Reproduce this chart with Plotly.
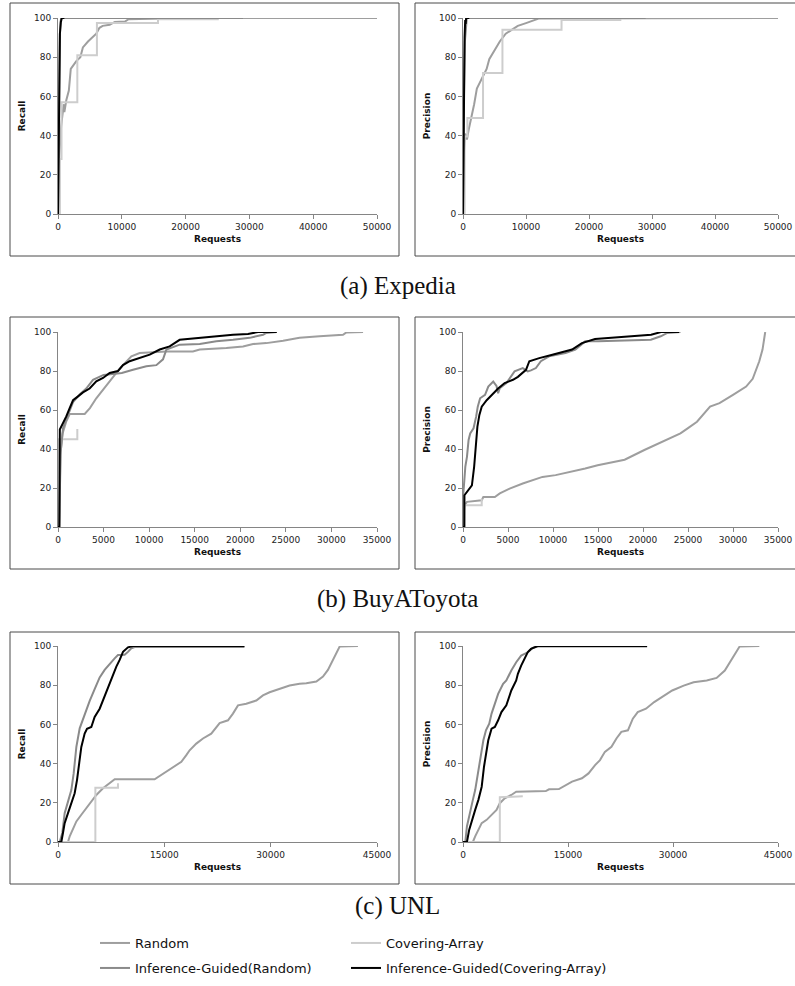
import plotly.graph_objects as go

# ---------------- data ----------------
series_names = ["Random", "Covering-Array", "Inference-Guided(Random)", "Inference-Guided(Covering-Array)"]
series_colors = ["#9e9e9e", "#cdcdcd", "#8a8a8a", "#000000"]
series_legend = ["legend", "legend2", "legend3", "legend4"]

x_max = {"expedia": 50000, "toyota": 35000, "unl": 45000}
x_ticks = {
    "expedia": [0, 10000, 20000, 30000, 40000, 50000],
    "toyota": [0, 5000, 10000, 15000, 20000, 25000, 30000, 35000],
    "unl": [0, 15000, 30000, 45000],
}
y_ticks = [0, 20, 40, 60, 80, 100]
captions = ["(a) Expedia", "(b) BuyAToyota", "(c) UNL"]

# Expedia - Recall
exp_rec_rand_x = [0, 200, 500, 780, 900, 1000, 1300, 1700, 2000, 2870, 3500, 3900, 4700, 6000, 6500, 7000, 8100, 8900, 10500, 11000, 15000, 20000, 50000]
exp_rec_rand_y = [0, 30, 45, 51, 56, 52, 58, 63, 74, 78, 80, 85, 88, 92, 95, 96, 96.5, 98, 98.2, 99.3, 99.5, 100, 100]
exp_rec_ca_x = [0, 300, 300, 550, 550, 3030, 3030, 6100, 6100, 15670, 15670, 25200]
exp_rec_ca_y = [0, 0, 28, 28, 57, 57, 81, 81, 97.5, 97.5, 99.3, 99.3]
exp_rec_igr_x = [0, 50, 100, 200, 300, 400, 500, 29000]
exp_rec_igr_y = [0, 20, 45, 75, 92, 98, 100, 100]
exp_rec_igca_x = [0, 60, 120, 200, 300, 450, 600, 1000]
exp_rec_igca_y = [0, 30, 60, 80, 92, 98, 100, 100]

# Expedia - Precision
exp_pre_rand_x = [0, 100, 360, 620, 900, 1400, 1770, 2200, 2970, 3750, 4170, 5060, 5840, 6780, 7660, 8700, 10000, 11300, 12100, 50000]
exp_pre_rand_y = [0, 30, 41, 38, 43, 50, 56, 64, 69, 74, 79, 84, 88, 92, 94, 96, 97.4, 99, 99.8, 100]
exp_pre_ca_x = [0, 260, 260, 700, 700, 3180, 3180, 6260, 6260, 15640, 15640, 25130]
exp_pre_ca_y = [0, 0, 39.5, 39.5, 49, 49, 72, 72, 94, 94, 99, 99]
exp_pre_igr_x = [0, 50, 150, 300, 450, 600, 29000]
exp_pre_igr_y = [0, 25, 60, 88, 97, 100, 100]
exp_pre_igca_x = [0, 80, 150, 250, 350, 420, 500, 650, 1000]
exp_pre_igca_y = [0, 40, 70, 90, 99, 97, 100, 100, 100]

# BuyAToyota - Recall
toy_rec_rand_x = [0, 150, 250, 500, 900, 1300, 2930, 3500, 4200, 4940, 5670, 6400, 7130, 8050, 8960, 11000, 11900, 14800, 15550, 18470, 20300, 21400, 22860, 24700, 26500, 28700, 31270, 31640, 33470]
toy_rec_rand_y = [0, 0, 37, 48, 54, 58, 58, 61, 66, 70.5, 75, 79, 83, 87.5, 89.2, 90, 90, 90, 91, 91.8, 92.6, 93.8, 94.3, 95.5, 97, 97.8, 98.6, 99.8, 100]
toy_rec_ca_x = [0, 120, 120, 2120, 2120]
toy_rec_ca_y = [0, 0, 45, 45, 50.3]
toy_rec_igr_x = [0, 120, 300, 550, 1100, 1650, 2380, 3100, 3840, 4500, 5000, 6000, 7000, 8230, 9690, 10790, 11520, 11890, 13350, 15550, 17370, 19200, 21030, 22500, 22860, 24000]
toy_rec_igr_y = [0, 0, 38.7, 50.7, 57.5, 64, 68, 71, 75.5, 77, 78, 78.5, 79, 80.6, 82.4, 83, 86, 91, 93.5, 93.8, 95.2, 96, 97, 98.6, 99.5, 100]
toy_rec_igca_x = [0, 150, 200, 550, 910, 1280, 1650, 2200, 2740, 3470, 4200, 4940, 5670, 6580, 7130, 7860, 8960, 10060, 11160, 12250, 13350, 15500, 17370, 19200, 20850, 21950, 24000]
toy_rec_igca_y = [0, 0, 50, 53, 56.7, 61, 65, 67, 69, 71, 74.7, 76.4, 79, 80, 83, 85, 86.6, 88.4, 91, 92.6, 96, 97, 97.8, 98.6, 99, 100, 100]

# BuyAToyota - Precision
toy_pre_rand_x = [0, 150, 440, 2080, 2260, 3540, 4090, 5180, 6640, 7740, 8830, 10290, 12120, 13580, 14960, 17960, 20150, 22340, 24160, 25000, 26000, 27450, 28500, 30000, 31460, 32190, 32550, 32920, 33280, 33580]
toy_pre_rand_y = [0, 11.1, 12.9, 13.7, 15.4, 15.4, 17.2, 19.7, 22.3, 24, 25.7, 26.6, 28.3, 30, 31.7, 34.5, 39.5, 44, 48, 50.7, 54, 61.8, 63.5, 67.8, 72, 76, 80, 85, 91, 100]
toy_pre_ca_x = [0, 150, 150, 2080, 2080]
toy_pre_ca_y = [0, 0, 11.1, 11.1, 14.5]
toy_pre_igr_x = [0, 30, 150, 260, 440, 620, 800, 1170, 1460, 1640, 1900, 2450, 2810, 3360, 3720, 3900, 4090, 4820, 5730, 6640, 7190, 7550, 8100, 8650, 9560, 11390, 12480, 13580, 15040, 18700, 20870, 21970, 22700, 24160]
toy_pre_igr_y = [0, 17, 24, 31, 36, 44.6, 48, 50.6, 56.6, 61.7, 66, 67.8, 72, 74.6, 72.4, 68.6, 71.2, 73.8, 79.8, 81.5, 79.8, 80.3, 81.5, 85, 87.5, 89.2, 91, 95.2, 95.2, 95.5, 96, 97.8, 99.5, 100]
toy_pre_igca_x = [0, 150, 160, 440, 800, 990, 1240, 1460, 1600, 1820, 2080, 2630, 3175, 3900, 4630, 5550, 6100, 7000, 7370, 8470, 9930, 12120, 13210, 14670, 18700, 20900, 22000, 24000]
toy_pre_igca_y = [0, 0, 16.3, 18, 19.7, 21.4, 31, 43, 51.5, 57.5, 61.7, 65, 67.8, 71, 73.8, 75.5, 77, 80.6, 85, 86.6, 88.3, 91, 94.3, 96.4, 97.8, 98.6, 100, 100]

# UNL - Recall
unl_rec_rand_x = [0, 1410, 1650, 2120, 2590, 3290, 4000, 4700, 5410, 6350, 7290, 8000, 13630, 14340, 15280, 16450, 17400, 18100, 18570, 19510, 20450, 21620, 22330, 22800, 23980, 24680, 25390, 26560, 27970, 28910, 29850, 31260, 32670, 34080, 35030, 36440, 37380, 38080, 38790, 39260, 39730, 42310]
unl_rec_rand_y = [0, 0, 2.9, 6.3, 10.5, 13.9, 17.3, 20.6, 24, 27.4, 29.9, 32, 32, 33.7, 35.9, 38.4, 40.9, 44.3, 46.8, 50.2, 52.8, 55.3, 58.7, 60.7, 62.1, 65.5, 69.7, 70.5, 72.2, 74.8, 76.4, 78.1, 79.8, 80.7, 81, 81.9, 84.4, 87.8, 92.9, 96.3, 99.7, 100]
unl_rec_ca_x = [0, 5270, 5270, 8460, 8460]
unl_rec_ca_y = [0, 0, 27.7, 27.7, 30]
unl_rec_igr_x = [0, 235, 610, 940, 1410, 1880, 2210, 2590, 3060, 3760, 4470, 5170, 5880, 6580, 7290, 7990, 8460, 9400, 9870, 10340, 10810, 26300]
unl_rec_igr_y = [0, 0, 4.6, 14.7, 20.6, 26.5, 35, 48.5, 58, 65.5, 72, 78, 84, 87.8, 91, 93.7, 95.4, 95.5, 97, 98.8, 99.5, 99.5]
unl_rec_igca_x = [0, 470, 700, 940, 1410, 1880, 2350, 2680, 2960, 3290, 3760, 4090, 4700, 5170, 5880, 6350, 6820, 7520, 8230, 8700, 9170, 9870, 10580, 26300]
unl_rec_igca_y = [0, 0, 4.6, 9.6, 14.7, 19.8, 24.9, 31.6, 40, 48.5, 55.3, 57.8, 58.7, 63.8, 68, 72.3, 77.3, 83, 89.5, 92.9, 97, 99.3, 100, 100]

# UNL - Precision
unl_pre_rand_x = [0, 1410, 1740, 2200, 2670, 3380, 4080, 4790, 5260, 5960, 6900, 7600, 11830, 12290, 13700, 14640, 15580, 16990, 17930, 18870, 19570, 20270, 21210, 21920, 22620, 23560, 24260, 24960, 26140, 27310, 28720, 29890, 31530, 32940, 34820, 36230, 37400, 38100, 38810, 39510, 42330]
unl_pre_rand_y = [0, 0, 2.9, 6.3, 9.6, 11.3, 13.9, 16.4, 19.8, 22.3, 24, 25.7, 26, 26.9, 27, 29.1, 30.8, 32.5, 35, 39.2, 41.8, 46, 48.6, 52.8, 56.2, 57, 62.9, 66.3, 68, 71.4, 74.8, 77.3, 79.8, 81.5, 82.4, 83.7, 87.5, 91.7, 95.9, 99.7, 100]
unl_pre_ca_x = [0, 5260, 5260, 8540]
unl_pre_ca_y = [0, 0, 22.8, 23.3]
unl_pre_igr_x = [0, 330, 560, 1030, 1410, 1740, 2060, 2440, 2910, 3280, 3750, 4080, 4550, 5020, 5730, 6190, 6900, 7600, 8310, 9240, 9950, 10650, 26300]
unl_pre_igr_y = [0, 0, 7.9, 16.4, 21.5, 26.5, 33.3, 41.8, 51.9, 57, 60.4, 65.5, 70.5, 75.6, 80.7, 82.4, 87.5, 91.7, 95.1, 96.8, 99, 99.7, 99.7]
unl_pre_igca_x = [0, 560, 890, 1270, 1740, 2200, 2670, 3000, 3280, 3610, 4080, 4550, 5020, 5490, 6190, 6900, 7600, 7840, 8310, 8780, 9240, 9710, 10180, 10650, 26300]
unl_pre_igca_y = [0, 0, 6.3, 11.3, 16.4, 21.5, 28.2, 38.4, 45.1, 51.9, 57.8, 58.7, 62.1, 66.3, 69.7, 77.3, 82.4, 85.8, 90, 93.9, 96.8, 98.5, 99.3, 100, 100]

panels = [
    ("expedia", "Recall", [(exp_rec_rand_x, exp_rec_rand_y), (exp_rec_ca_x, exp_rec_ca_y), (exp_rec_igr_x, exp_rec_igr_y), (exp_rec_igca_x, exp_rec_igca_y)]),
    ("expedia", "Precision", [(exp_pre_rand_x, exp_pre_rand_y), (exp_pre_ca_x, exp_pre_ca_y), (exp_pre_igr_x, exp_pre_igr_y), (exp_pre_igca_x, exp_pre_igca_y)]),
    ("toyota", "Recall", [(toy_rec_rand_x, toy_rec_rand_y), (toy_rec_ca_x, toy_rec_ca_y), (toy_rec_igr_x, toy_rec_igr_y), (toy_rec_igca_x, toy_rec_igca_y)]),
    ("toyota", "Precision", [(toy_pre_rand_x, toy_pre_rand_y), (toy_pre_ca_x, toy_pre_ca_y), (toy_pre_igr_x, toy_pre_igr_y), (toy_pre_igca_x, toy_pre_igca_y)]),
    ("unl", "Recall", [(unl_rec_rand_x, unl_rec_rand_y), (unl_rec_ca_x, unl_rec_ca_y), (unl_rec_igr_x, unl_rec_igr_y), (unl_rec_igca_x, unl_rec_igca_y)]),
    ("unl", "Precision", [(unl_pre_rand_x, unl_pre_rand_y), (unl_pre_ca_x, unl_pre_ca_y), (unl_pre_igr_x, unl_pre_igr_y), (unl_pre_igca_x, unl_pre_igca_y)]),
]

# ---------------- layout (pixel geometry) ----------------
W, H = 795, 986
def px(x):
    return x / W
def py(y):
    return 1 - y / H

plot_left = [58, 463]
plot_right = [377, 778]
plot_top = [18, 332, 646]
plot_bottom = [214, 527, 842]
box_left = [10, 415]
box_right = [399, 805]
box_top = [3, 317, 632]
box_bottom = [256, 569, 884]
caption_y = [286, 599, 906]
legend_pos = [(95, 928), (346, 928), (95, 953), (346, 953)]

fig = go.Figure()
layout = {}
tickfont = dict(family="DejaVu Sans", size=9, color="#222222")
titlefont = dict(family="DejaVu Sans", size=9, color="#111111", weight="bold")

for i, (ds, metric, series) in enumerate(panels):
    row, col = i // 2, i % 2
    n = i + 1
    xa = "x" if n == 1 else f"x{n}"
    ya = "y" if n == 1 else f"y{n}"
    for k, (xs, ys) in enumerate(series):
        fig.add_trace(go.Scatter(
            x=xs, y=ys, mode="lines", name=series_names[k],
            line=dict(color=series_colors[k], width=2),
            showlegend=(i == 0), legendgroup=series_names[k], legend=series_legend[k],
            xaxis=xa, yaxis=ya,
        ))
    layout["xaxis" if n == 1 else f"xaxis{n}"] = dict(
        domain=[px(plot_left[col]), px(plot_right[col])],
        anchor=ya, range=[0, x_max[ds]], tickvals=x_ticks[ds],
        ticktext=[str(v) for v in x_ticks[ds]], ticklabeloverflow="allow",
        showgrid=False, zeroline=False, showline=True, linecolor="#858585", linewidth=1,
        ticks="outside", ticklen=4, tickcolor="#858585", tickfont=tickfont,
        title=dict(text="Requests", font=titlefont, standoff=4),
        automargin=False, fixedrange=True,
    )
    layout["yaxis" if n == 1 else f"yaxis{n}"] = dict(
        domain=[py(plot_bottom[row]), py(plot_top[row])],
        anchor=xa, range=[0, 100], tickvals=y_ticks, ticklabeloverflow="allow",
        showgrid=False, zeroline=False, showline=True, linecolor="#858585", linewidth=1,
        ticks="outside", ticklen=4, tickcolor="#858585", tickfont=tickfont,
        title=dict(text=metric, font=titlefont, standoff=6),
        automargin=False, fixedrange=True,
    )

shapes = []
for r in range(3):
    for c in range(2):
        shapes.append(dict(type="rect", xref="paper", yref="paper",
                           x0=px(box_left[c]), x1=px(box_right[c]),
                           y0=py(box_bottom[r]), y1=py(box_top[r]),
                           line=dict(color="#4a4a4a", width=1), fillcolor="rgba(0,0,0,0)",
                           layer="below"))

annotations = []
for r in range(3):
    annotations.append(dict(text=captions[r], xref="paper", yref="paper",
                            x=0.5, y=py(caption_y[r]), xanchor="center", yanchor="middle",
                            showarrow=False,
                            font=dict(family="Liberation Serif", size=25, color="#111111")))

legend_common = dict(orientation="h", xanchor="left", yanchor="top",
                     font=dict(family="DejaVu Sans", size=13, color="#111111"),
                     itemwidth=30, bgcolor="rgba(0,0,0,0)")
legends = {}
for j, (lx, ly) in enumerate(legend_pos):
    key = "legend" if j == 0 else f"legend{j + 1}"
    legends[key] = dict(x=px(lx), y=py(ly), **legend_common)

fig.update_layout(
    width=W, height=H,
    margin=dict(l=0, r=0, t=0, b=0),
    paper_bgcolor="white", plot_bgcolor="white",
    shapes=shapes, annotations=annotations,
    showlegend=True,
    **legends,
    **layout,
)

fig.write_html("out.html", config={"displayModeBar": False},
               post_script="document.body.style.margin='0px';")
